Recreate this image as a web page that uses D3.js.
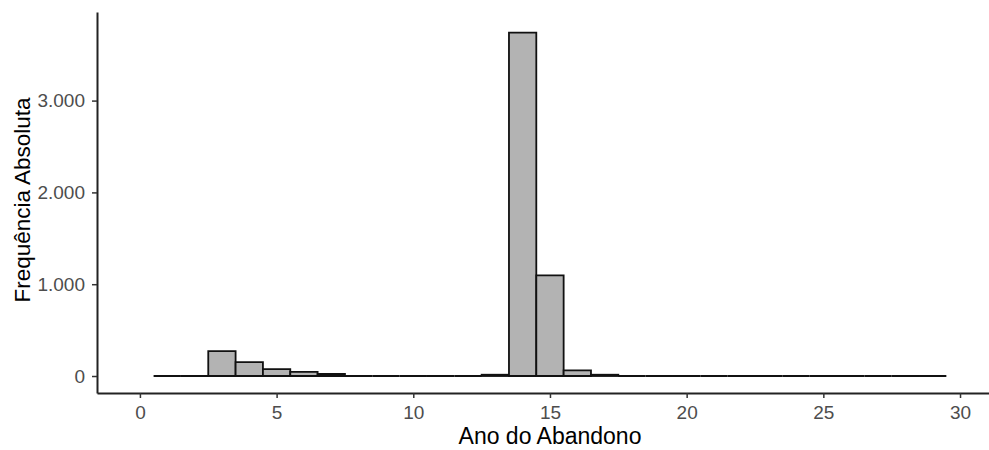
<!DOCTYPE html>
<html>
<head>
<meta charset="utf-8">
<script src="https://cdn.jsdelivr.net/npm/d3@7/dist/d3.min.js"></script>
<style>
  body { margin: 0; background: #fff; }
  svg { display: block; }
  text { font-family: "Liberation Sans", Arial, sans-serif; }
</style>
</head>
<body>
<svg id="chart" width="989" height="450"></svg>
<script>
// Data: histogram of "Ano do Abandono" (bins of width 1 centred on integers)
const years = d3.range(1, 30); // 1..29
const counts = [0, 0, 272, 152, 76, 45, 22, 0, 0, 0, 0, 0, 14, 3740, 1097, 62, 14,
                0, 0, 0, 0, 0, 0, 0, 0, 0, 0, 0, 0];
const xTicks = [0, 5, 10, 15, 20, 25, 30];
const yTicks = [0, 1000, 2000, 3000];
const xTitle = "Ano do Abandono";
const yTitle = "Frequência Absoluta";

const svg = d3.select("#chart");
const mLeft = 97, mRight = 989, mTop = 12, mBottom = 393;

const x = d3.scaleLinear().domain([-1.57, 31.06]).range([mLeft, mRight]);
const y = d3.scaleLinear().domain([-185, 3965]).range([mBottom, mTop]);

const fmt = v => v === 0 ? "0" : d3.format(",")(v).replace(/,/g, ".");

// bars (paths so that zero-count bins still draw their outline)
svg.append("g").selectAll("path")
  .data(years.map((yr, i) => ({ yr, n: counts[i] })))
  .join("path")
  .attr("d", d => {
    const x0 = x(d.yr - 0.5), x1 = x(d.yr + 0.5), y0 = y(0), y1 = y(d.n);
    return `M${x0},${y0}V${y1}H${x1}V${y0}Z`;
  })
  .attr("fill", "#b3b3b3")
  .attr("stroke", "#111")
  .attr("stroke-width", 1.8);

// x axis
const gx = svg.append("g").attr("transform", `translate(0,${mBottom})`)
  .call(d3.axisBottom(x).tickValues(xTicks).tickSize(5).tickPadding(8).tickSizeOuter(0));
gx.select(".domain").attr("stroke", "#222").attr("stroke-width", 2);
gx.selectAll(".tick line").attr("stroke", "#333").attr("stroke-width", 1.5);
gx.selectAll(".tick text").attr("fill", "#4d4d4d").attr("font-size", 19);

// y axis
const gy = svg.append("g").attr("transform", `translate(${mLeft},0)`)
  .call(d3.axisLeft(y).tickValues(yTicks).tickFormat(fmt).tickSize(5).tickPadding(7).tickSizeOuter(0));
gy.select(".domain").attr("stroke", "#222").attr("stroke-width", 2);
gy.selectAll(".tick line").attr("stroke", "#333").attr("stroke-width", 1.5);
gy.selectAll(".tick text").attr("fill", "#4d4d4d").attr("font-size", 19);

// titles
svg.append("text")
  .attr("x", 550).attr("y", 444)
  .attr("text-anchor", "middle")
  .attr("font-size", 23).attr("fill", "#000")
  .text(xTitle);

svg.append("text")
  .attr("transform", "translate(30,200) rotate(-90)")
  .attr("text-anchor", "middle")
  .attr("font-size", 22.5).attr("fill", "#000")
  .text(yTitle);
</script>
</body>
</html>
